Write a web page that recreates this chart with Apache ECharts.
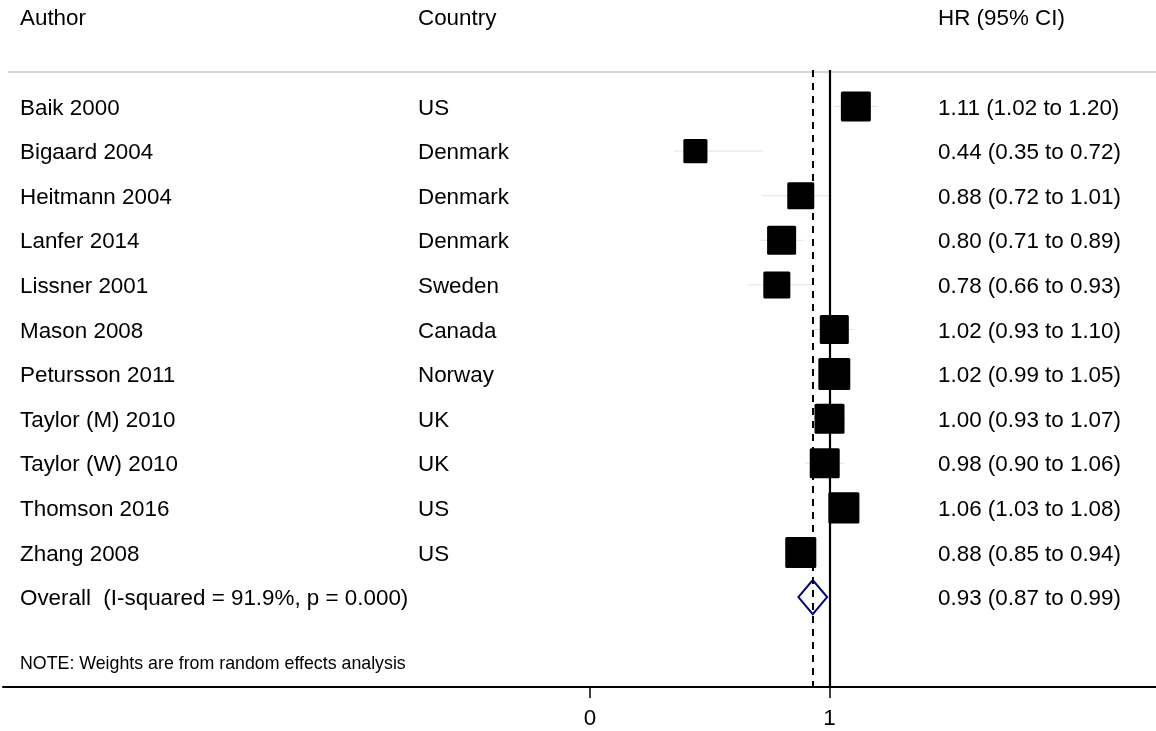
<!DOCTYPE html>
<html><head><meta charset="utf-8">
<script src="https://cdn.jsdelivr.net/npm/echarts@6/dist/echarts.min.js"></script>
<style>html,body{margin:0;padding:0;background:#fff}#c{width:1156px;height:731px}</style>
</head><body><div id="c"></div>
<script>
// ---- data ----
const authors = ['Baik 2000','Bigaard 2004','Heitmann 2004','Lanfer 2014','Lissner 2001','Mason 2008','Petursson 2011','Taylor (M) 2010','Taylor (W) 2010','Thomson 2016','Zhang 2008'];
const countries = ['US','Denmark','Denmark','Denmark','Sweden','Canada','Norway','UK','UK','US','US'];
const hr = [1.11,0.44,0.88,0.80,0.78,1.02,1.02,1.00,0.98,1.06,0.88];
const lo = [1.02,0.35,0.72,0.71,0.66,0.93,0.99,0.93,0.90,1.03,0.85];
const hi = [1.20,0.72,1.01,0.89,0.93,1.10,1.05,1.07,1.06,1.08,0.94];
const weights = [9.6,6.2,7.8,9.0,7.8,9.0,10.9,9.6,9.6,10.3,10.3];
const overallLabel = ['Overall  (I-squared = 91.9%, p = 0.000)'];
const overallHR = [0.93];
const overallLo = [0.87];
const overallHi = [0.99];
const headers = ['Author','Country','HR (95% CI)'];
const xTickValues = [0,1];
const nullValue = [1];
const noteText = ['NOTE: Weights are from random effects analysis'];

// ---- layout ----
const FONT = '"Liberation Sans", Arial, sans-serif';
const FS = 22.4;
const colX = [20, 418, 938];
const textDy = 2;
const boxScale = 9.68;
const fmt = v => v.toFixed(2);
const ciText = (h,l,u) => fmt(h) + ' (' + fmt(l) + ' to ' + fmt(u) + ')';

const studyData = hr.map((v,i)=>[i, v, lo[i], hi[i], weights[i]]);
const overallRow = authors.length;
const overallData = [[overallRow, overallHR[0], overallLo[0], overallHi[0]]];

const txt = (s, x, y, size) => ({type:'text', silent:true, style:{text:s, x:x, y:y, fill:'#000', fontSize:size||FS, fontFamily:FONT, align:'left', verticalAlign:'middle'}});

const chart = echarts.init(document.getElementById('c'), null, {renderer:'canvas'});
chart.setOption({
  animation:false,
  backgroundColor:'#fff',
  grid:{left:3, right:0, top:70, bottom:44, containLabel:false, outerBoundsMode:'none'},
  xAxis:{type:'value', min:-2.451, max:2.3632,
    axisLine:{show:true, onZero:false, lineStyle:{color:'#000', width:2}},
    axisTick:{show:true, customValues:xTickValues, length:11, lineStyle:{color:'#000', width:1.5}},
    axisLabel:{show:true, customValues:xTickValues, fontSize:FS, fontFamily:FONT, color:'#000', margin:21},
    splitLine:{show:false}},
  yAxis:{type:'value', inverse:true, min:-0.8184, max:13.016, show:false},
  graphic:[
    txt(headers[0], colX[0], 19),
    txt(headers[1], colX[1], 19),
    txt(headers[2], colX[2], 19),
    {type:'line', silent:true, shape:{x1:8, y1:72, x2:1156, y2:72}, style:{stroke:'#d6d6d6', lineWidth:2}},
    txt(noteText[0], colX[0], 664, 17.8)
  ],
  series:[
    {type:'line', data:[], silent:true,
      markLine:{silent:true, symbol:['none','none'], label:{show:false},
        data:[
          {xAxis:nullValue[0], lineStyle:{color:'#000', width:2.2, type:'solid'}},
          {xAxis:overallHR[0], lineStyle:{color:'#000', width:2, type:[7,6]}}
        ]}},
    {type:'custom', clip:false, silent:true, data:studyData, encode:{x:1, y:0},
      renderItem:function(params, api){
        const i = api.value(0);
        const c = api.coord([api.value(1), i]);
        const a = api.coord([api.value(2), i]);
        const b = api.coord([api.value(3), i]);
        const s = boxScale*Math.sqrt(api.value(4));
        const y = c[1];
        return {type:'group', children:[
          {type:'line', shape:{x1:a[0], y1:y, x2:b[0], y2:y}, style:{stroke:'#e2e2e2', lineWidth:1}},
          {type:'rect', shape:{x:c[0]-s/2, y:y-s/2, width:s, height:s, r:1.5}, style:{fill:'#000'}},
          txt(authors[i], colX[0], y+textDy),
          txt(countries[i], colX[1], y+textDy),
          txt(ciText(hr[i], lo[i], hi[i]), colX[2], y+textDy)
        ]};
      }},
    {type:'custom', clip:false, silent:true, data:overallData, encode:{x:1, y:0},
      renderItem:function(params, api){
        const r = api.value(0);
        const c = api.coord([api.value(1), r]);
        const a = api.coord([api.value(2), r]);
        const b = api.coord([api.value(3), r]);
        const y = c[1], h = 17;
        return {type:'group', children:[
          {type:'polygon', shape:{points:[[a[0],y],[c[0],y-h],[b[0],y],[c[0],y+h]]}, style:{fill:'none', stroke:'#000080', lineWidth:2}},
          txt(overallLabel[0], colX[0], y+textDy),
          txt(ciText(overallHR[0], overallLo[0], overallHi[0]), colX[2], y+textDy)
        ]};
      }}
  ]
});
</script></body></html>
